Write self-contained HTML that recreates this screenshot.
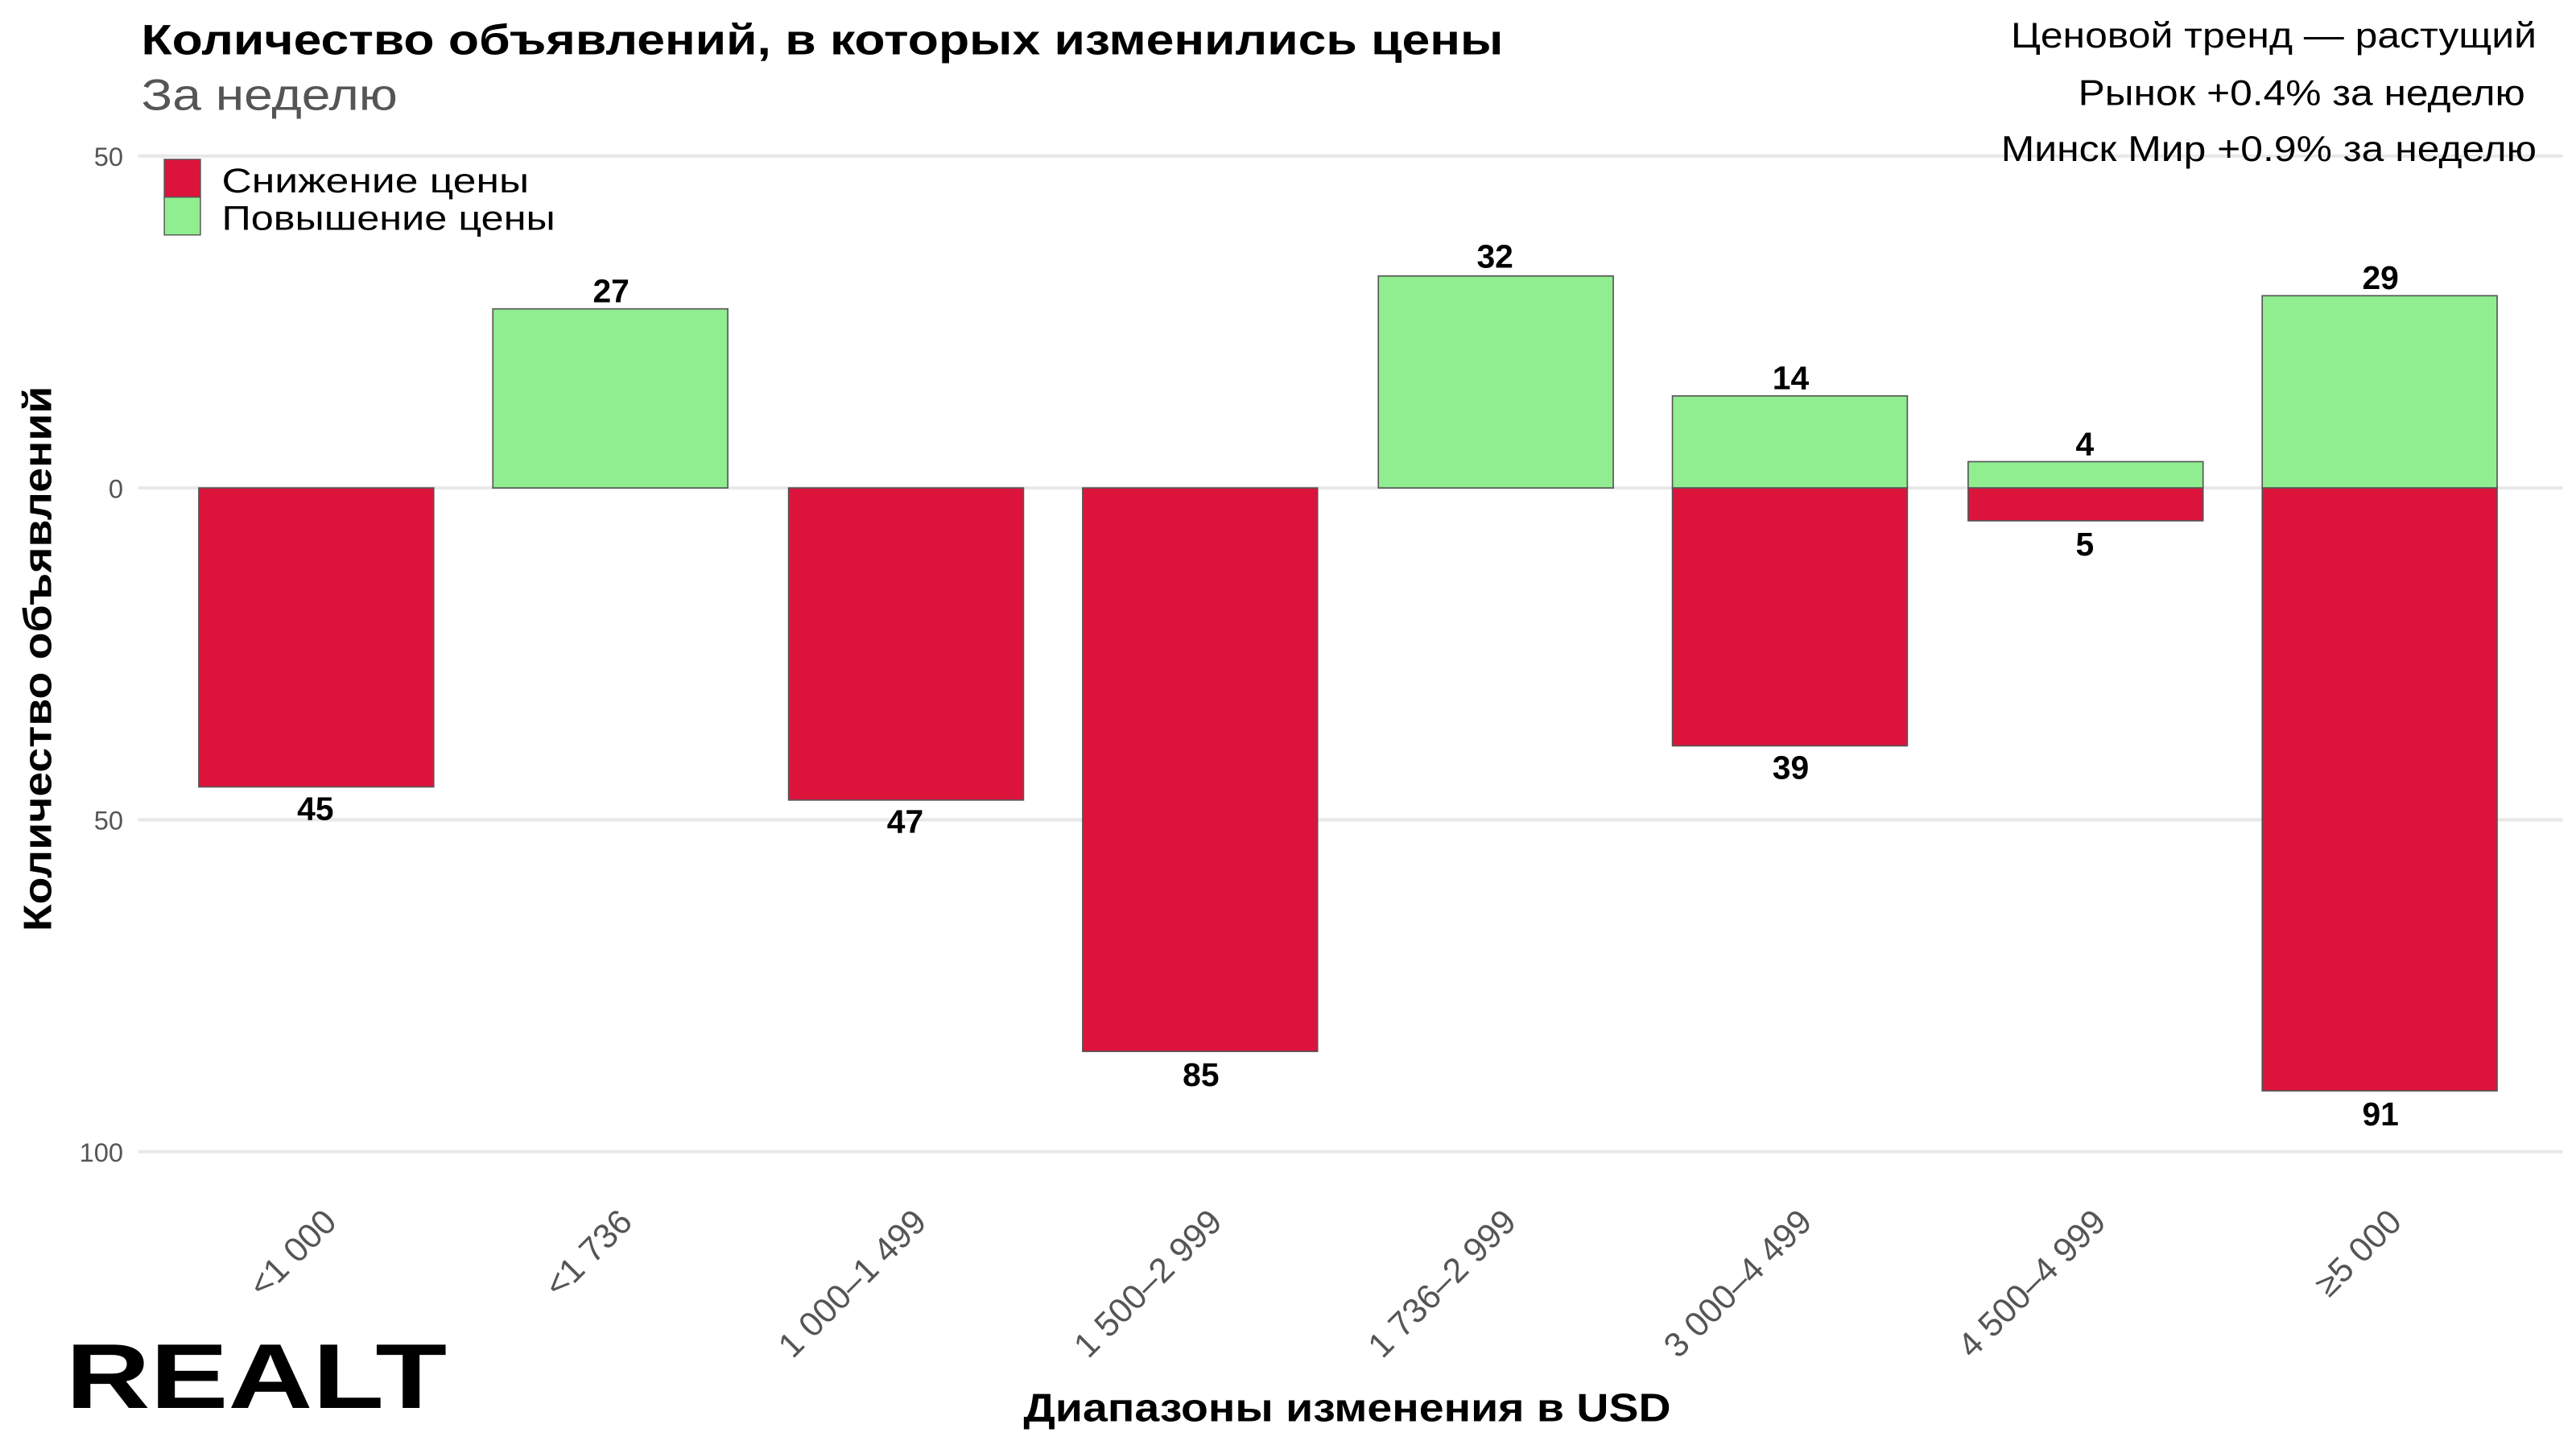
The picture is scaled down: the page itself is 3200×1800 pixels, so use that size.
<!DOCTYPE html>
<html><head><meta charset="utf-8"><style>html,body{margin:0;padding:0;background:#fff}svg{display:block}</style></head>
<body>
<svg width="3200" height="1800" viewBox="0 0 1568 882" xmlns="http://www.w3.org/2000/svg" font-family="'Liberation Sans', sans-serif">
<rect width="1568" height="882" fill="#fff"/>
<g stroke="#e8e8e8" stroke-width="2">
<line x1="84" x2="1560" y1="95" y2="95"/><line x1="84" x2="1560" y1="297" y2="297"/>
<line x1="84" x2="1560" y1="499" y2="499"/><line x1="84" x2="1560" y1="701" y2="701"/>
</g>
<g fill="#555" font-size="16" text-anchor="end">
<text x="75" y="101">50</text><text x="75" y="303">0</text><text x="75" y="505">50</text><text x="75" y="707">100</text>
</g>
<text x="86" y="33" font-size="26" font-weight="bold" textLength="829" lengthAdjust="spacingAndGlyphs">Количество объявлений, в которых изменились цены</text>
<text x="86" y="67" font-size="27" fill="#555" textLength="156" lengthAdjust="spacingAndGlyphs">За неделю</text>
<g font-size="22" text-anchor="end">
<text x="1544" y="29" textLength="320" lengthAdjust="spacingAndGlyphs">Ценовой тренд — растущий</text>
<text x="1537" y="64" textLength="272" lengthAdjust="spacingAndGlyphs">Рынок +0.4% за неделю</text>
<text x="1544" y="98" textLength="326" lengthAdjust="spacingAndGlyphs">Минск Мир +0.9% за неделю</text>
</g>
<rect x="100" y="97" width="22" height="23" fill="#dc143c" stroke="#555" stroke-width="0.7"/>
<rect x="100" y="120" width="22" height="23" fill="#90ee90" stroke="#555" stroke-width="0.7"/>
<text x="135" y="117" font-size="21" textLength="187" lengthAdjust="spacingAndGlyphs">Снижение цены</text>
<text x="135" y="140" font-size="21" textLength="203" lengthAdjust="spacingAndGlyphs">Повышение цены</text>
<g stroke="#555" stroke-width="0.8">
<rect x="121" y="297" width="143" height="182" fill="#dc143c"/>
<rect x="300" y="188" width="143" height="109" fill="#90ee90"/>
<rect x="480" y="297" width="143" height="190" fill="#dc143c"/>
<rect x="659" y="297" width="143" height="343" fill="#dc143c"/>
<rect x="839" y="168" width="143" height="129" fill="#90ee90"/>
<rect x="1018" y="241" width="143" height="56" fill="#90ee90"/>
<rect x="1018" y="297" width="143" height="157" fill="#dc143c"/>
<rect x="1198" y="281" width="143" height="16" fill="#90ee90"/>
<rect x="1198" y="297" width="143" height="20" fill="#dc143c"/>
<rect x="1377" y="180" width="143" height="117" fill="#90ee90"/>
<rect x="1377" y="297" width="143" height="367" fill="#dc143c"/>
</g>
<g font-size="20" font-weight="bold" text-anchor="middle">
<text x="192" y="499">45</text><text x="372" y="184">27</text><text x="551" y="507">47</text>
<text x="731" y="661">85</text><text x="910" y="163">32</text><text x="1090" y="237">14</text>
<text x="1090" y="474">39</text><text x="1269" y="277">4</text><text x="1269" y="338">5</text>
<text x="1449" y="176">29</text><text x="1449" y="685">91</text>
</g>
<g font-size="21" fill="#555" text-anchor="end">
<text transform="translate(206,745) rotate(-45)">&lt;1 000</text>
<text transform="translate(386,745) rotate(-45)">&lt;1 736</text>
<text transform="translate(565,745) rotate(-45)">1 000–1 499</text>
<text transform="translate(745,745) rotate(-45)">1 500–2 999</text>
<text transform="translate(924,745) rotate(-45)">1 736–2 999</text>
<text transform="translate(1104,745) rotate(-45)">3 000–4 499</text>
<text transform="translate(1283,745) rotate(-45)">4 500–4 999</text>
<text transform="translate(1463,745) rotate(-45)">≥5 000</text>
</g>
<text x="820" y="865" font-size="24" font-weight="bold" text-anchor="middle" textLength="394" lengthAdjust="spacingAndGlyphs">Диапазоны изменения в USD</text>
<text transform="translate(31,401) rotate(-90)" font-size="24" font-weight="bold" text-anchor="middle" textLength="332" lengthAdjust="spacingAndGlyphs">Количество объявлений</text>
<text x="40" y="857" font-size="56" font-weight="bold" textLength="232" lengthAdjust="spacingAndGlyphs">REALT</text>
</svg>
</body></html>
